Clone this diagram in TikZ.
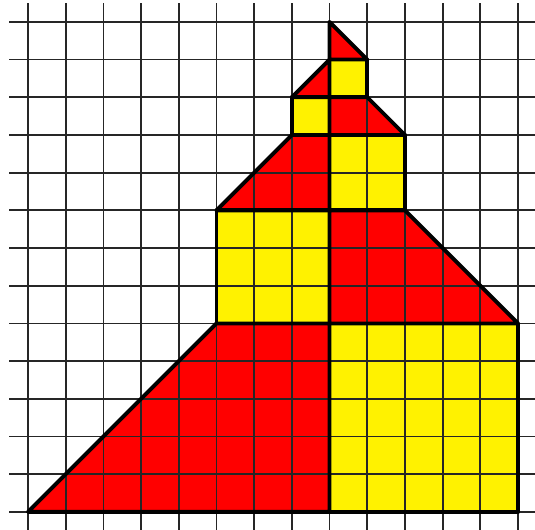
\documentclass[tikz,border=0pt]{standalone}
\usetikzlibrary{shapes, arrows}
\tikzstyle{redpart} = [fill=red]
\tikzstyle{yellowpart} = [fill=yellow]
\tikzstyle{gridline} = [black!85, line width=1.3pt]
\tikzstyle{outline} = [draw=black, line width=2.9pt, line join=round]

\begin{document}
\begin{tikzpicture}
    \useasboundingbox (-0.743,-0.477) rectangle (13.45,13.58);

    % pieces
    \path [redpart] (0,0) -- (5,5) -- (8,5) -- (8,0) -- cycle;
    \path [yellowpart] (8,0) rectangle (13,5);
    \path [yellowpart] (5,5) rectangle (8,8);
    \path [redpart] (8,5) -- (13,5) -- (10,8) -- (8,8) -- cycle;
    \path [redpart] (5,8) -- (8,8) -- (8,10) -- (7,10) -- cycle;
    \path [yellowpart] (8,8) rectangle (10,10);
    \path [yellowpart] (7,10) rectangle (8,11);
    \path [redpart] (8,10) -- (10,10) -- (9,11) -- (8,11) -- cycle;
    \path [redpart] (7,11) -- (8,11) -- (8,12) -- cycle;
    \path [yellowpart] (8,11) rectangle (9,12);
    \path [redpart] (8,12) -- (9,12) -- (8,13) -- cycle;

    % grid
    \draw [gridline] (-0.5,-0.5) grid (13.5,13.5);

    % outlines
    \draw [outline] (0,0) -- (5,5) -- (8,5) -- (8,0) -- cycle;
    \draw [outline] (8,0) rectangle (13,5);
    \draw [outline] (5,5) rectangle (8,8);
    \draw [outline] (8,5) -- (13,5) -- (10,8) -- (8,8) -- cycle;
    \draw [outline] (5,8) -- (8,8) -- (8,10) -- (7,10) -- cycle;
    \draw [outline] (8,8) rectangle (10,10);
    \draw [outline] (7,10) rectangle (8,11);
    \draw [outline] (8,10) -- (10,10) -- (9,11) -- (8,11) -- cycle;
    \draw [outline] (7,11) -- (8,11) -- (8,12) -- cycle;
    \draw [outline] (8,11) rectangle (9,12);
    \draw [outline] (8,12) -- (9,12) -- (8,13) -- cycle;

\end{tikzpicture}
\end{document}
